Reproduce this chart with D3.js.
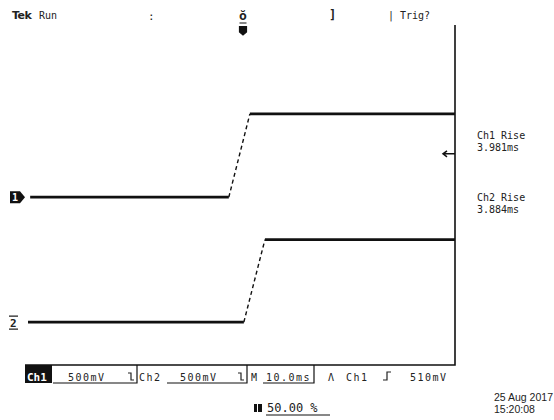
<!DOCTYPE html>
<html>
<head>
<meta charset="utf-8">
<script src="https://cdn.jsdelivr.net/npm/d3@7"></script>
<style>
  body { margin: 0; background: #fff; }
  text { font-family: "DejaVu Sans Mono", monospace; fill: #222; }
</style>
</head>
<body>
<div id="scope"></div>
<script>
// screen size
const width = 554;
const height = 420;

// trace data, time in ms, volts
const ch1T = [1.2, 47.4, 52.3, 100];
const ch1V = [0, 0, 0.98, 0.98];
const ch2T = [0.7, 50.9, 55.8, 100];
const ch2V = [0, 0, 0.97, 0.97];

// channel settings
const voltsPerDiv = 0.5;
const ch1Pos = -0.05;
const ch2Pos = -2.99;
const trigLevel = 0.51;
const trigPercent = 50;

// readouts
const riseLabels = ['Ch1 Rise', 'Ch2 Rise'];
const riseValues = ['3.981ms', '3.884ms'];

var svg = d3.select('#scope')
  .append('svg')
  .attr('width', width)
  .attr('height', height);

// graticule: 10 div x 8 div
var x = d3.scaleLinear().domain([0, 100]).range([25, 455]);
var y = d3.scaleLinear().domain([-4, 4]).range([365, 25]);

// frame (right and bottom edge only)
svg.append('path')
  .attr('d', 'M' + x(100) + ',' + y(4) + 'V' + y(-4) + 'H' + x(0))
  .style('fill', 'none')
  .style('stroke', '#111')
  .style('stroke-width', 1.6);

/**
draw one trace, the edge is drawn dashed
*/
function drawTrace(ts, vs, pos) {
  var pts = ts.map(function(t, i) { return [x(t), y(vs[i] / voltsPerDiv + pos)]; });
  for (var i = 0; i < pts.length - 1; i++) {
    var edge = (vs[i] != vs[i + 1]);
    svg.append('line')
      .attr('x1', pts[i][0]).attr('y1', pts[i][1])
      .attr('x2', pts[i + 1][0]).attr('y2', pts[i + 1][1])
      .style('stroke', '#111')
      .style('stroke-width', edge ? 1.4 : 2.6)
      .style('stroke-dasharray', edge ? '4,3' : null);
  }
}
drawTrace(ch1T, ch1V, ch1Pos);
drawTrace(ch2T, ch2V, ch2Pos);

// ch1 ground marker
var g1 = y(ch1Pos);
svg.append('path')
  .attr('d', 'M10,' + (g1 - 6) + 'H20L25,' + g1 + 'L20,' + (g1 + 6) + 'H10Z')
  .style('fill', '#111');
svg.append('text').attr('x', 12).attr('y', g1 + 4)
  .style('font-size', '10px').style('fill', '#fff').style('font-weight', 'bold').text('1');

// ch2 ground marker
var g2 = y(ch2Pos);
svg.append('text').attr('x', 10).attr('y', g2 + 5)
  .style('font-size', '11px').style('font-weight', 'bold').text('2');
svg.append('path')
  .attr('d', 'M9,' + (g2 - 6) + 'H18M9,' + (g2 + 7) + 'H18')
  .style('stroke', '#222').style('stroke-width', 1.2);

// trigger level arrow
var ty = y(trigLevel / voltsPerDiv + ch1Pos);
svg.append('path')
  .attr('d', 'M443,' + ty + 'H' + x(100) + 'M447,' + (ty - 3) + 'L443,' + ty + 'L447,' + (ty + 3))
  .style('fill', 'none').style('stroke', '#111').style('stroke-width', 1.5);

// trigger position marker at top
var tx = x(trigPercent) + 3;
svg.append('text').attr('x', tx).attr('y', 20).style('font-size', '13px')
  .style('font-weight', 'bold').style('text-anchor', 'middle').text('ŏ');
svg.append('path')
  .attr('d', 'M' + (tx - 3.5) + ',23H' + (tx + 3.5) + 'M' + (tx - 3.5) + ',26.5H' + (tx + 3.5) +
    'V32L' + tx + ',35L' + (tx - 3.5) + ',32Z')
  .style('fill', '#111').style('stroke', '#111').style('stroke-width', 1.2);

// top status line
svg.append('text').attr('x', 12).attr('y', 19).style('font-size', '11px')
  .style('font-weight', 'bold').style('font-family', 'DejaVu Sans').style('letter-spacing', '-0.5px').text('Tek');
svg.append('text').attr('x', 39).attr('y', 19).style('font-size', '10px').text('Run');
svg.append('text').attr('x', 148).attr('y', 20).style('font-size', '11px').text(':');
svg.append('text').attr('x', 329).attr('y', 19).style('font-size', '12px').style('font-weight', 'bold').text(']');
svg.append('text').attr('x', 388).attr('y', 19).style('font-size', '10px').text('| Trig?');

// measurement readouts on right
riseLabels.forEach(function(d, i) {
  var by = 139 + i * 62;
  svg.append('text').attr('x', 477).attr('y', by).style('font-size', '10px').text(d);
  svg.append('text').attr('x', 477).attr('y', by + 12).style('font-size', '10px').text(riseValues[i]);
});

// bottom readout bar
var base = 381;
svg.append('rect').attr('x', 25).attr('y', 365).attr('width', 27).attr('height', 18).style('fill', '#111');
svg.append('text').attr('x', 27).attr('y', base).style('font-size', '11px')
  .style('font-weight', 'bold').style('fill', '#fff').text('Ch1');

// underlined boxes: [left, right]
var boxes = [[53, 137], [167, 247], [263, 314]];
boxes.forEach(function(b) {
  svg.append('path')
    .attr('d', 'M' + b[0] + ',383H' + b[1] + 'V365')
    .style('fill', 'none').style('stroke', '#111').style('stroke-width', 1.2);
});

// bandwidth symbols
[128, 238].forEach(function(bx) {
  svg.append('path')
    .attr('d', 'M' + bx + ',373H' + (bx + 3) + 'V380H' + (bx + 6))
    .style('fill', 'none').style('stroke', '#222').style('stroke-width', 1.2);
});

var labels = [
  [68, '500mV'], [139, 'Ch2'], [180, '500mV'], [251, 'M'], [266, '10.0ms'],
  [328, 'Λ'], [346, 'Ch1'], [410, '510mV']
];
labels.forEach(function(l) {
  svg.append('text').attr('x', l[0]).attr('y', base)
    .style('font-size', '10px').style('letter-spacing', '1.5px').text(l[1]);
});
// rising slope symbol
svg.append('path')
  .attr('d', 'M383,380H387V372H391')
  .style('fill', 'none').style('stroke', '#222').style('stroke-width', 1.2);

// trigger position readout
svg.append('rect').attr('x', 254).attr('y', 404).attr('width', 3).attr('height', 8).style('fill', '#111');
svg.append('rect').attr('x', 258).attr('y', 404).attr('width', 4).attr('height', 8).style('fill', '#111');
svg.append('text').attr('x', 267).attr('y', 412).style('font-size', '12px').text(trigPercent.toFixed(2) + ' %');
svg.append('line').attr('x1', 266).attr('x2', 330).attr('y1', 415).attr('y2', 415)
  .style('stroke', '#111').style('stroke-width', 1);

// date
svg.append('text').attr('x', 494).attr('y', 401).style('font-size', '10.5px')
  .style('font-family', '"Liberation Sans", sans-serif').text('25 Aug 2017');
svg.append('text').attr('x', 494).attr('y', 413).style('font-size', '10.5px')
  .style('font-family', '"Liberation Sans", sans-serif').text('15:20:08');
</script>
</body>
</html>
